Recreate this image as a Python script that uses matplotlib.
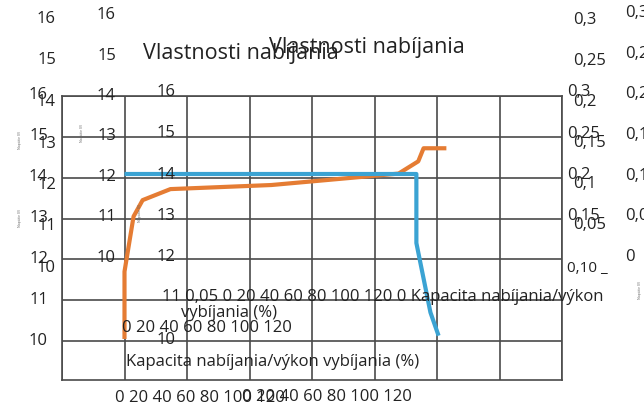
import matplotlib
matplotlib.use("Agg")
import matplotlib.pyplot as plt

plt.rcParams['font.family'] = ['Open Sans', 'DejaVu Sans']

# charge curve (orange) and discharge curve (blue), x in %, y in V
charge_x = [0, 0, 2.9, 5.8, 14.7, 47, 87.7, 94, 95.7, 103]
charge_y = [10.05, 11.7, 13.05, 13.45, 13.72, 13.82, 14.1, 14.4, 14.72, 14.72]
discharge_x = [0, 93.4, 93.4, 97.9, 100.5]
discharge_y = [14.09, 14.09, 12.4, 10.7, 10.13]

volt_labels = ["16", "15", "14", "13", "12", "11", "10"]
ratio_labels = ["0,3", "0,25", "0,2", "0,15", "0,1", "0,05", "0"]
pct_text = "0 20 40 60 80 100 120"
title = "Vlastnosti nabíjania"
xlabel = "Kapacita nabíjania/výkon vybíjania (%)"

W, H = 644, 414
fig = plt.figure(figsize=(W / 100, H / 100), dpi=100)
ax = fig.add_axes([62 / W, 1 - 381 / H, 500 / W, 284 / H])

ax.plot(charge_x, charge_y, color='#e57c33', lw=3, solid_capstyle='butt', zorder=3)
ax.plot(discharge_x, discharge_y, color='#3ba3d3', lw=3, solid_capstyle='butt', zorder=3)

ax.set_xlim(-20, 140)
ax.set_ylim(9.045, 16)
ax.set_xticks(range(-20, 141, 20))
ax.set_yticks(range(10, 17))
ax.tick_params(length=0, labelleft=False, labelbottom=False)
ax.grid(True, color='#4a4a4a', lw=1.2)
for s in ax.spines.values():
    s.set_color('#4a4a4a')
    s.set_linewidth(1.2)


def put(px, py, s, ha='center', size=12, **kw):
    fig.text(px / W, 1 - py / H, s, ha=ha, va='center', fontsize=size,
             color='#222222', **kw)


# stacked copies of the voltage scale
for i, lab in enumerate(volt_labels):
    put(48, 95 + 41 * i, lab, ha='right')
    put(56, 19 + 41.5 * i, lab, ha='right')
    put(116, 15 + 40.5 * i, lab, ha='right')
    if lab != "11":
        put(166, 92 + 41.3 * i, lab)

# stacked copies of the ratio scale
for i, lab in enumerate(ratio_labels[:-1]):
    put(573, 20 + 41 * i, lab, ha='left')
for i, lab in enumerate(ratio_labels[:4]):
    put(567, 92 + 41.5 * i, lab, ha='left')
put(567, 268, "0,10 _", ha='left', size=11)
for i, lab in enumerate(ratio_labels):
    put(625, 13 + 40.7 * i, lab, ha='left')

put(241, 53, title, size=15.5)
put(367, 48, title, size=15.5)

put(162, 297, "11 0,05 " + pct_text + " 0 Kapacita nabíjania/výkon", ha='left')
put(229, 313, "vybíjania (%)")
put(122, 328, pct_text, ha='left')
put(273, 362, xlabel)
put(115, 398, pct_text, ha='left')
put(242, 397, pct_text, ha='left')

# tiny axis titles squeezed to almost nothing
for px, py in [(20, 140), (20, 218), (82, 133), (140, 213), (640, 290)]:
    fig.text(px / W, 1 - py / H, "Napätie (V)", rotation=90, ha='center',
             va='center', fontsize=2.5, color='#666666')

fig.savefig("out.png", dpi=100)
